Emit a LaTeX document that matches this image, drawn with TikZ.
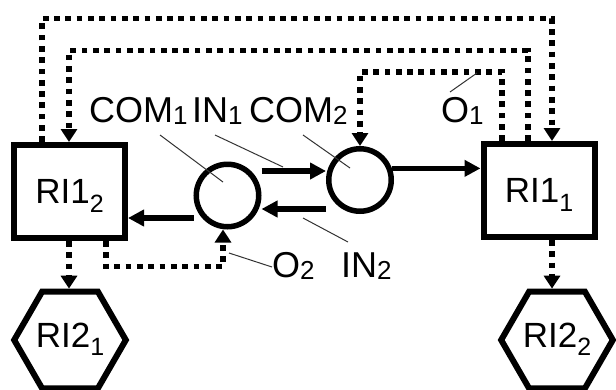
\documentclass[tikz,border=0pt]{standalone}
\usepackage{fontspec}
\setmainfont{Liberation Sans}
\usetikzlibrary{arrows.meta,shapes.geometric}
\newcommand{\lsub}[1]{\raisebox{-0.08em}{\fontsize{26}{26}\selectfont #1}}
\newcommand{\bsub}[1]{\raisebox{-0.25em}{\fontsize{25}{25}\selectfont #1}}
\begin{document}
\begin{tikzpicture}[x=1pt,y=-1pt,
  every node/.style={font=\fontsize{36}{40}\selectfont, inner sep=0pt},
  blk/.style={draw, line width=6pt, rectangle, minimum width=111pt, minimum height=93pt,
    font=\fontsize{35}{40}\selectfont, text depth=0pt},
  cir/.style={draw, line width=5.5pt, circle, minimum size=62.5pt},
  hex/.style={draw, line width=6pt, regular polygon, regular polygon sides=6, minimum size=105pt,
    font=\fontsize{35}{40}\selectfont, text depth=10pt},
  sol/.style={line width=5.5pt, -{Triangle[length=16pt,width=16pt]}},
  dotarr/.style={line width=5.5pt, dash pattern=on 5.7pt off 5.6pt, -{Triangle[length=13pt,width=16pt]}},
  lead/.style={draw=black!80, line width=1pt},
  lbl/.style={anchor=base west}
]
\useasboundingbox (0,0) rectangle (616,389);

% main nodes
\node[blk] (r12) at (69.5,191.5) {RI1\bsub{2}};
\node[blk] (r11) at (539,190.5) {RI1\bsub{1}};
\node[cir] (c1) at (227.5,195.5) {};
\node[cir] (c2) at (360,180) {};
\node[hex] (h1) at (70,340) {RI2\bsub{1}};
\node[hex] (h2) at (557,340) {RI2\bsub{2}};

% labels
\node[lbl] (lcom1) at (89,122) {COM\lsub{1}};
\node[lbl] (lin1) at (192,122) {IN\lsub{1}};
\node[lbl] (lcom2) at (249,122) {COM\lsub{2}};
\node[lbl] (lo1) at (441,122) {O\lsub{1}};
\node[lbl] (lo2) at (272,277) {O\lsub{2}};
\node[lbl] (lin2) at (341,277) {IN\lsub{2}};

% helper coordinates
\coordinate (p1) at (42,18.5);  \coordinate (p2) at (552,18.5);
\coordinate (q1) at (528,50.5); \coordinate (q2) at (69,50.5);
\coordinate (s1) at (502,72);   \coordinate (s2) at (360,72);
\coordinate (u1) at (106,266.5);\coordinate (u2) at (223,266.5);
\coordinate (v1) at (69,0);     \coordinate (v2) at (552,0);
\coordinate (y1) at (0,171);    \coordinate (y2) at (0,209);
\coordinate (y4) at (0,218);

% dotted connectors
\draw[dotarr] (r12.north -| p1) -- (p1) -- (p2) -- (r11.north -| p2);
\draw[dotarr] (r11.north -| q1) -- (q1) -- (q2) -- (r12.north -| q2);
\draw[dotarr] (r11.north -| s1) -- (s1) -- (s2) -- (c2.north);
\draw[dotarr] (r12.south -| u1) -- (u1) -- (u2) -- (c1.south -| u2);
\draw[dotarr] (r12.south -| v1) -- (h1.north -| v1);
\draw[dotarr] (r11.south -| v2) -- (h2.north -| v2);

% solid arrows
\draw[sol] (c1.east |- y1) -- (c2.west |- y1);
\draw[sol] (c2.west |- y2) -- (c1.east |- y2);
\draw[sol] (c2.20) -- (r11.west |- c2.20);
\draw[sol] (c1.west |- y4) -- (r12.east |- y4);

% leader lines
\coordinate (k1a) at (160,135); \coordinate (k1b) at (223,182);
\coordinate (k2a) at (215,135); \coordinate (k2b) at (283,167);
\coordinate (k3a) at (303,135); \coordinate (k3b) at (350,168);
\coordinate (k4a) at (450,92);  \coordinate (k4b) at (477,73);
\coordinate (k5a) at (229,253); \coordinate (k5b) at (272,267);
\coordinate (k6a) at (303,218); \coordinate (k6b) at (348,242);
\draw[lead] (k1a) -- (k1b);
\draw[lead] (k2a) -- (k2b);
\draw[lead] (k3a) -- (k3b);
\draw[lead] (k4a) -- (k4b);
\draw[lead] (k5a) -- (k5b);
\draw[lead] (k6a) -- (k6b);
\end{tikzpicture}
\end{document}
